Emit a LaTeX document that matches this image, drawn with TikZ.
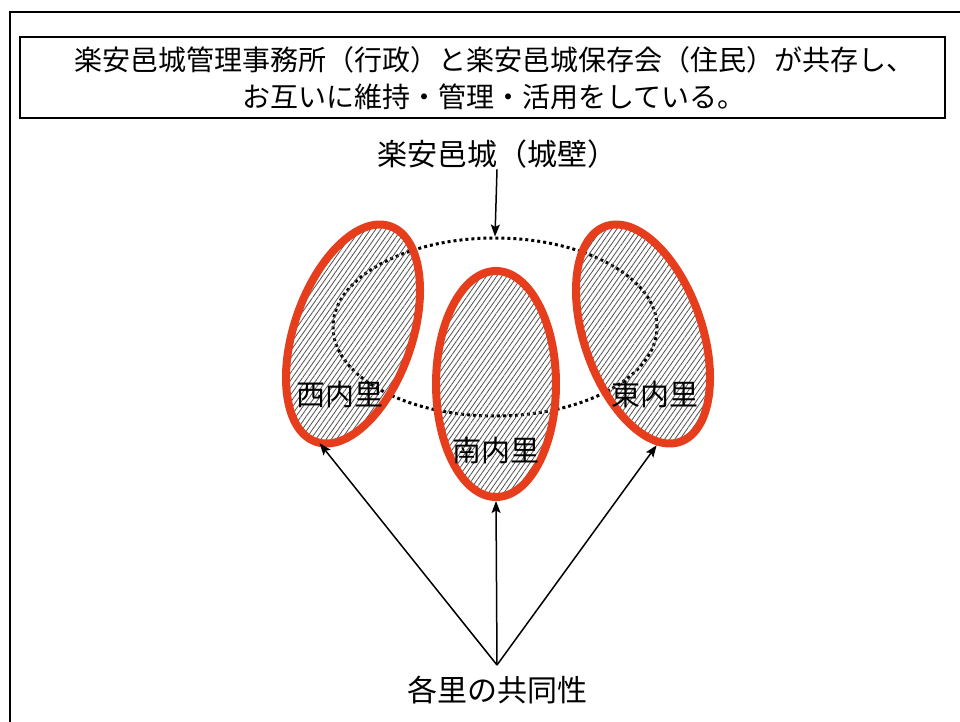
\documentclass[tikz,border=0pt]{standalone}
\usepackage{fontspec}
\setmainfont{Noto Sans CJK JP}
\usetikzlibrary{arrows.meta,shapes.geometric,patterns.meta}
\definecolor{satored}{HTML}{E63D1C}
\definecolor{hatchgray}{HTML}{505050}
\newcommand{\jpsize}[1]{\fontsize{#1}{1.33\dimexpr #1\relax}\selectfont}

\begin{document}
\begin{tikzpicture}[x=1pt, y=-1pt,
  sato/.style={ellipse, draw=satored, line width=8pt, inner sep=0pt,
    minimum width=118pt, minimum height=228pt,
    pattern={Lines[angle=55,distance=4.2pt,line width=0.8pt]}, pattern color=hatchgray},
  wall/.style={ellipse, draw, line width=3pt, dash pattern=on 3pt off 3pt,
    inner sep=0pt, minimum width=324pt, minimum height=178pt},
  lbl/.style={font=\jpsize{29pt}, inner sep=1pt},
  conn/.style={-{Stealth[length=12pt,width=9pt,inset=2.5pt]}, line width=1.5pt}]
  \useasboundingbox (0,0) rectangle (960,722);

  % frame
  \draw[line width=2.4pt] (10,722) -- (10,12) -- (960,12);
  \node[draw, line width=1.8pt, minimum width=925pt, minimum height=81pt,
        inner sep=0pt] (note) at (482.5,77.5) {};
  \node[align=center, font=\jpsize{28pt}, inner sep=0pt] (notetext) at (494,78)
    {楽安邑城管理事務所（行政）と楽安邑城保存会（住民）が共存し、\\お互いに維持・管理・活用をしている。};

  % castle wall
  \node[wall] (wall) at (495,327) {};
  \node[lbl, font=\jpsize{30pt}] (castle) at (497,154) {楽安邑城（城壁）};
  \draw[conn] (castle.south) -- (wall.north);

  % the three villages
  \node[sato, rotate=-19] (west) at (353,334) {};
  \node[sato, minimum width=120pt, minimum height=226pt] (south) at (496,384) {};
  \node[sato, rotate=19] (east) at (643,334) {};
  \node[lbl] (westlbl) at (340,395) {西内里};
  \node[lbl] (southlbl) at (496,451) {南内里};
  \node[lbl] (eastlbl) at (655,395) {東内里};

  % shared ties
  \node[lbl, font=\jpsize{30pt}] (common) at (497,690) {各里の共同性};
  \coordinate (apex) at (497,665);
  \draw[conn] (apex) -- (west.-88);
  \draw[conn] (apex) -- (south.south);
  \draw[conn] (apex) -- (east.-102);
\end{tikzpicture}
\end{document}
